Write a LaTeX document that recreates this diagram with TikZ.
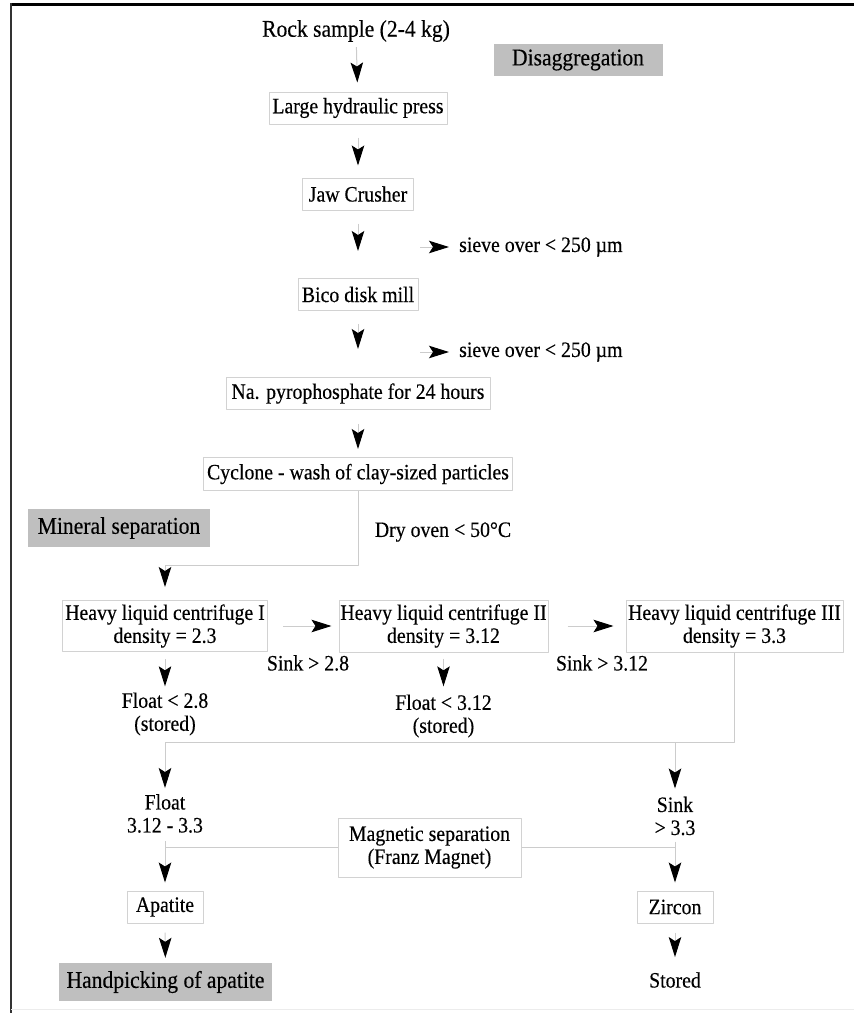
\documentclass[tikz,border=0pt]{standalone}
\usepackage{fontspec}
\setmainfont{Liberation Serif}[FakeStretch=0.9, FakeBold=0.3]
\usetikzlibrary{arrows.meta}
\newcommand\fsize{\fontsize{22}{23}\selectfont}
\newcommand\fhead{\fontsize{24}{26}\selectfont}
\begin{document}
\begin{tikzpicture}[x=1pt, y=-1pt, line join=round, font=\fsize,
		box/.style={draw=gray!35, line width=1pt, inner sep=0pt, minimum height=32pt, align=center},
		head/.style={fill=gray!50, inner sep=0pt, font=\fhead},
		txt/.style={inner sep=0pt, align=center},
		link/.style={draw=gray!40, line width=1pt},
		flow/.style={link, -{Stealth[length=20pt, width=12.5pt, inset=4pt, black]}}]
	\useasboundingbox (0,0) rectangle (854,1013);
	% frame
	\draw[line width=3pt] (10,4.5) -- (854,4.5);
	\draw[line width=2pt, black!80] (11,3) -- (11,1013);
	\draw[gray!15] (11,1009) -- (854,1009);
	% disaggregation
	\node[txt, font=\fhead] (rock) at (356,31) {Rock sample (2-4 kg)};
	\node[head, minimum width=169pt, minimum height=32pt] (disagg) at (578,60) {Disaggregation};
	\node[box, minimum width=178pt] (press) at (358,108) {Large hydraulic press};
	\node[box, minimum width=111pt] (jaw) at (358,194) {Jaw Crusher};
	\node[box, minimum width=120pt] (bico) at (358,294.5) {Bico disk mill};
	\node[box, minimum width=264pt] (na) at (358,393.5) {Na. pyrophosphate for 24 hours};
	\node[box, minimum width=309pt, minimum height=33pt] (cyclone) at (358,474) {Cyclone - wash of clay-sized particles};
	\foreach \a/\b/\s/\t in {rock/press/5/9, press/jaw/13/12, jaw/bico/13/27, bico/na/13/28, na/cyclone/14/8}{
		\draw[flow, shorten <=\s pt, shorten >=\t pt] (\a) -- (\b);
	}
	\foreach \y/\n in {247/1, 352/2}{
		\node[txt, anchor=west] (sieve\n) at (459,\y) {sieve over < 250 µm};
		\coordinate (s\n) at (420,\y);
		\draw[flow, shorten >=10pt] (s\n) -- (sieve\n.west);
	}
	% mineral separation
	\node[head, minimum width=182pt, minimum height=38pt] (minsep) at (119,528) {Mineral separation};
	\node[txt] (dry) at (443,532) {Dry oven < 50°C};
	\node[box, minimum width=205pt, minimum height=51pt] (c1) at (165,626) {Heavy liquid centrifuge I\\density = 2.3};
	\node[box, minimum width=209pt, minimum height=52pt] (c2) at (443.5,626) {Heavy liquid centrifuge II\\density = 3.12};
	\node[box, minimum width=217pt, minimum height=52pt] (c3) at (734.5,626) {Heavy liquid centrifuge III\\density = 3.3};
	\coordinate (bend) at (165,565);
	\draw[flow, shorten >=13pt] (cyclone.south) |- (bend) -- (c1);
	\draw[flow, shorten <=15pt, shorten >=7pt] (c1.east) -- (c2.west);
	\draw[flow, shorten <=19pt, shorten >=12pt] (c2.east) -- (c3.west);
	\node[txt] (sink1) at (308,663) {Sink > 2.8};
	\node[txt] (sink2) at (602,663) {Sink > 3.12};
	\node[txt] (float1) at (165,714) {Float < 2.8\\(stored)};
	\node[txt] (float2) at (443.5,716) {Float < 3.12\\(stored)};
	\draw[flow, shorten <=7pt, shorten >=6pt] (c1) -- (float1);
	\draw[flow, shorten <=6pt, shorten >=8pt] (c2) -- (float2);
	% magnetic separation
	\node[txt] (fl3) at (165,813.5) {Float\\3.12 - 3.3};
	\node[txt] (sk3) at (675,816) {Sink\\> 3.3};
	\coordinate (join) at (165,742);
	\draw[link] (c3.south) |- (join);
	\draw[flow, shorten >=6pt] (join) -- (fl3);
	\draw[flow, shorten >=8pt] (join -| sk3) -- (sk3);
	\node[box, minimum width=183pt, minimum height=59pt] (mag) at (429.5,847.5) {Magnetic separation\\(Franz Magnet)};
	\node[box, minimum width=76pt] (apatite) at (165,907) {Apatite};
	\node[box, minimum width=76pt] (zircon) at (675,907) {Zircon};
	\node[head, minimum width=213pt, minimum height=38pt] (handpick) at (165.5,982) {Handpicking of apatite};
	\node[txt] (stored) at (675,980) {Stored};
	\draw[link] (mag.west) -- (mag.west -| fl3);
	\draw[link] (mag.east) -- (mag.east -| sk3);
	\draw[flow, shorten <=8pt, shorten >=8pt] (fl3) -- (apatite);
	\draw[flow, shorten <=6pt, shorten >=8pt] (sk3) -- (zircon);
	\draw[flow, shorten <=9pt, shorten >=5pt] (apatite) -- (handpick);
	\draw[flow, shorten <=9pt, shorten >=15pt] (zircon) -- (stored);
\end{tikzpicture}
\end{document}
